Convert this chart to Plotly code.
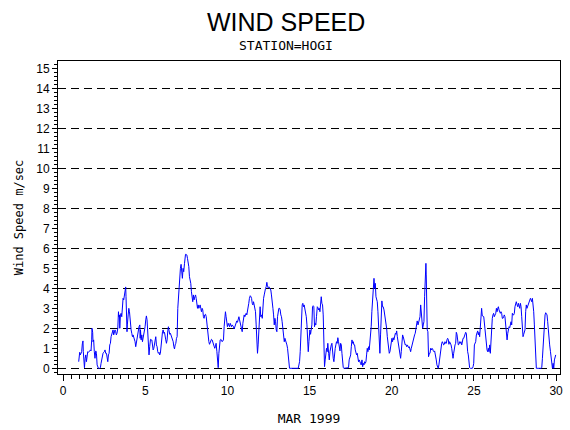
import plotly.graph_objects as go

# wind speed, day of month (decimal) vs m/sec
day = [
    0.95, 0.96, 1.01, 1.05, 1.09, 1.13, 1.17, 1.21, 1.23, 1.27, 1.30, 1.34, 1.38, 1.42, 1.46, 1.50, 1.54, 1.58, 1.62, 1.66,
    1.70, 1.74, 1.76, 1.80, 1.82, 1.86, 1.90, 1.94, 1.99, 2.03, 2.07, 2.11, 2.15, 2.23, 2.27, 2.31, 2.35, 2.39, 2.43, 2.47,
    2.51, 2.55, 2.59, 2.64, 2.68, 2.72, 2.76, 2.80, 2.84, 2.88, 2.92, 2.96, 3.00, 3.04, 3.08, 3.12, 3.16, 3.20, 3.24, 3.28,
    3.33, 3.37, 3.39, 3.43, 3.45, 3.49, 3.53, 3.57, 3.61, 3.65, 3.69, 3.73, 3.77, 3.81, 3.83, 3.87, 3.89, 3.91, 3.96, 4.00,
    4.04, 4.06, 4.10, 4.14, 4.18, 4.22, 4.26, 4.30, 4.34, 4.38, 4.42, 4.46, 4.50, 4.54, 4.58, 4.62, 4.67, 4.69, 4.71, 4.75,
    4.79, 4.83, 4.87, 4.91, 4.95, 4.99, 5.03, 5.07, 5.11, 5.15, 5.19, 5.23, 5.27, 5.32, 5.36, 5.40, 5.44, 5.48, 5.52, 5.56,
    5.60, 5.64, 5.68, 5.72, 5.76, 5.80, 5.84, 5.88, 5.92, 5.96, 6.00, 6.05, 6.09, 6.13, 6.17, 6.21, 6.25, 6.29, 6.33, 6.37,
    6.41, 6.45, 6.49, 6.53, 6.57, 6.61, 6.65, 6.70, 6.74, 6.78, 6.82, 6.86, 6.90, 6.94, 6.98, 7.02, 7.06, 7.10, 7.14, 7.18,
    7.22, 7.26, 7.30, 7.34, 7.39,
    7.41, 7.45, 7.49, 7.53, 7.57, 7.61, 7.65, 7.69, 7.73, 7.77, 7.81, 7.85, 7.89, 7.93, 7.97, 8.02, 8.06, 8.10, 8.14, 8.18,
    8.22, 8.26, 8.30, 8.34, 8.38, 8.42, 8.46, 8.50, 8.54, 8.58, 8.62, 8.67, 8.71, 8.75, 8.79, 8.83, 8.87, 8.91, 8.95, 8.99,
    9.03, 9.07, 9.11, 9.15, 9.19, 9.23, 9.27, 9.31, 9.36, 9.40, 9.44, 9.48, 9.52, 9.56, 9.60, 9.64, 9.68, 9.72, 9.76, 9.80,
    9.84, 9.88, 9.92, 9.96, 10.00, 10.05, 10.09, 10.13, 10.17, 10.21, 10.25, 10.29, 10.33, 10.37, 10.41, 10.45, 10.49, 10.53, 10.57, 10.61,
    10.65, 10.70, 10.74, 10.78, 10.82, 10.86, 10.90, 10.94, 10.98, 11.02, 11.06, 11.10, 11.14, 11.18, 11.22, 11.26, 11.30, 11.34, 11.39, 11.43,
    11.47, 11.51, 11.55, 11.59, 11.63, 11.67, 11.71, 11.75, 11.79, 11.83, 11.87, 11.91, 11.95, 11.99, 12.03, 12.08, 12.12, 12.16, 12.20, 12.24,
    12.28, 12.32, 12.36, 12.40, 12.44, 12.48, 12.52, 12.56, 12.60, 12.64, 12.68, 12.73, 12.77, 12.81, 12.85, 12.89, 12.93, 12.97, 13.01, 13.05,
    13.09, 13.13, 13.17, 13.21, 13.25, 13.29, 13.33, 13.37, 13.42, 13.46, 13.50, 13.54, 13.58, 13.62, 13.66, 13.70, 13.74, 13.78, 14.31, 14.35,
    14.39, 14.43, 14.47, 14.51, 14.55, 14.59, 14.63, 14.67, 14.71, 14.76, 14.80, 14.84, 14.88, 14.92, 14.96, 15.00,
    15.02, 15.06, 15.10, 15.14, 15.18, 15.22, 15.26, 15.30, 15.34, 15.38, 15.42, 15.47, 15.51, 15.55, 15.59, 15.63, 15.67, 15.71, 15.75, 15.79,
    15.83, 15.85, 15.87, 15.91, 15.95, 15.99, 16.03, 16.07, 16.11, 16.16, 16.20, 16.24, 16.28, 16.32, 16.36, 16.40, 16.44, 16.48, 16.52, 16.56,
    16.60, 16.64, 16.68, 16.72, 16.76, 16.80, 16.85, 16.89, 16.93, 16.97, 17.01, 17.05, 17.09, 17.25, 17.37, 17.41, 17.45, 17.50, 17.54, 17.58,
    17.62, 17.66, 17.70, 17.74, 17.78, 17.82, 17.86, 17.90, 17.94, 17.98, 18.02, 18.06, 18.10, 18.14, 18.19, 18.23, 18.27, 18.31, 18.35, 18.39,
    18.43, 18.47, 18.51, 18.55, 18.59, 18.63, 18.67, 18.71, 18.75, 18.79, 18.83, 18.88, 18.92, 18.96, 19.00, 19.04, 19.08, 19.12, 19.16, 19.20,
    19.24, 19.28, 19.32, 19.36, 19.40, 19.44, 19.48, 19.53, 19.57, 19.61, 19.65, 19.69, 19.73, 19.77, 19.81, 19.85, 19.89, 19.93, 19.97, 20.01,
    20.05, 20.09, 20.13, 20.17, 20.22, 20.26, 20.30, 20.34, 20.38, 20.42, 20.46, 20.50, 20.54, 20.58, 20.62, 20.66, 20.70, 20.74, 20.78, 20.82,
    20.86, 20.91, 20.95, 20.99, 21.03, 21.07, 21.11, 21.15, 21.19, 21.23, 21.27, 21.31, 21.35, 21.39, 21.43, 21.47, 21.51, 21.55, 21.60, 21.64,
    21.68, 21.72, 21.76, 21.80, 21.84, 21.88, 21.92, 21.96, 22.00, 22.04, 22.08, 22.10, 22.12, 22.16, 22.20, 22.24, 22.29, 22.33, 22.37, 22.41,
    22.45, 22.49, 22.53, 22.57, 22.61,
    22.63, 22.67, 22.71, 22.75, 22.79, 22.83, 22.87, 22.92, 22.96, 23.00, 23.04, 23.08, 23.12, 23.16, 23.20, 23.24, 23.28, 23.32, 23.36, 23.40,
    23.44, 23.48, 23.52, 23.57, 23.61, 23.65, 23.69, 23.73, 23.77, 23.81, 23.85, 23.89, 23.93, 23.97, 24.01, 24.05, 24.09, 24.13, 24.17, 24.21,
    24.26, 24.30, 24.34, 24.38, 24.42, 24.46, 24.50, 24.54, 24.58, 24.62, 24.66, 24.70, 24.74, 24.78, 24.91, 24.95, 24.99, 25.03, 25.07, 25.11,
    25.15, 25.19, 25.23, 25.27, 25.31, 25.35, 25.39, 25.43, 25.47, 25.51, 25.55, 25.60, 25.64, 25.68, 25.72, 25.76, 25.80, 25.84, 25.88, 25.92,
    25.96, 26.00, 26.04, 26.08, 26.12, 26.16, 26.20, 26.24, 26.29, 26.33, 26.37, 26.41, 26.45, 26.49, 26.53, 26.57, 26.61, 26.65, 26.69, 26.73,
    26.77, 26.81, 26.85, 26.89, 26.94, 26.98, 27.02, 27.06, 27.10, 27.14, 27.18, 27.22, 27.26, 27.30, 27.34, 27.38, 27.42, 27.46, 27.50, 27.54,
    27.58, 27.63, 27.67, 27.71, 27.75, 27.79, 27.83, 27.87, 27.91, 27.95, 27.99, 28.03, 28.07, 28.11, 28.15, 28.19, 28.23, 28.27, 28.32, 28.36,
    28.40, 28.44, 28.48, 28.52, 28.56, 28.60, 28.64, 28.68, 28.72, 28.76, 28.80, 29.09, 29.13, 29.17, 29.21, 29.25, 29.29, 29.33, 29.37, 29.41,
    29.45, 29.49, 29.53, 29.57, 29.61, 29.66, 29.70, 29.74, 29.78, 29.82, 29.86, 29.90, 29.94, 29.98,
]
speed = [
    0.33, 0.58, 0.80, 0.67, 0.75, 0.83, 1.22, 1.37, 0.83, 0.25, 0.03, 0.50, 0.67, 0.33, 0.75, 0.83, 0.80, 0.87, 0.87, 0.92,
    0.87, 1.42, 2.00, 1.80, 1.33, 1.42, 0.83, 0.50, 0.87, 0.75, 0.17, 0.00, 0.00, 0.00, 0.03, 0.25, 0.42, 0.67, 0.75, 0.80,
    0.83, 0.92, 0.75, 0.75, 0.50, 0.33, 0.67, 0.75, 1.17, 1.25, 1.58, 1.75, 1.83, 1.92, 1.67, 1.83, 1.92, 1.83, 1.67, 1.75,
    2.00, 2.83, 2.58, 2.67, 2.00, 2.67, 2.75, 2.58, 3.17, 3.50, 3.42, 3.75, 4.07, 4.07, 3.58, 2.83, 1.83, 2.17, 2.67, 3.00,
    2.83, 2.50, 2.25, 1.92, 1.75, 1.58, 1.67, 1.58, 1.50, 1.33, 1.08, 1.33, 1.50, 1.58, 1.83, 2.08, 2.17, 1.50, 1.92, 1.42,
    1.67, 1.33, 1.50, 1.58, 1.75, 2.08, 2.42, 2.62, 2.42, 1.67, 0.75, 0.67, 1.08, 1.45, 1.42, 1.42, 1.25, 0.92, 1.00, 1.17,
    1.42, 1.58, 1.17, 1.08, 0.83, 0.75, 0.80, 0.67, 0.75, 1.17, 1.58, 1.83, 1.92, 1.75, 1.80, 1.67, 1.42, 1.25, 1.42, 1.87,
    2.08, 1.87, 1.70, 1.75, 1.67, 1.58, 1.50, 1.33, 1.08, 0.97, 1.17, 1.25, 1.50, 1.58, 3.00, 3.67, 4.03, 4.33, 5.00, 5.20,
    4.67, 4.50, 5.00, 4.83, 5.25,
    5.58, 5.70, 5.70, 5.67, 5.50, 5.33, 5.08, 4.58, 4.42, 4.25, 3.83, 3.67, 3.33, 3.67, 3.42, 3.58, 3.67, 3.50, 3.17, 3.00,
    3.17, 3.00, 3.08, 3.17, 3.00, 2.83, 3.00, 2.92, 2.58, 2.50, 2.67, 2.70, 2.58, 2.17, 1.75, 1.58, 1.33, 1.20, 1.33, 1.42,
    1.45, 1.42, 1.33, 1.25, 1.17, 1.00, 1.08, 1.25, 0.83, 0.33, 0.03, 0.75, 1.17, 1.42, 1.45, 1.42, 1.33, 1.37, 1.42, 2.08,
    2.50, 2.83, 2.58, 2.33, 2.08, 2.25, 2.17, 2.08, 2.25, 2.17, 2.08, 2.17, 2.13, 2.08, 1.97, 2.08, 2.17, 2.25, 2.37, 2.30,
    2.50, 2.58, 2.42, 2.30, 2.17, 2.08, 1.83, 2.25, 2.42, 2.67, 2.58, 2.67, 2.75, 2.67, 2.83, 3.00, 3.25, 3.50, 3.63, 3.58,
    3.50, 3.25, 3.17, 3.33, 3.08, 3.00, 2.83, 2.17, 1.33, 0.75, 1.17, 2.00, 2.33, 3.08, 2.58, 2.67, 2.50, 3.17, 3.50, 3.67,
    3.92, 4.00, 4.08, 4.30, 4.08, 4.03, 4.08, 4.00, 4.00, 3.92, 3.67, 3.42, 3.00, 2.67, 2.17, 2.50, 2.33, 1.92, 1.83, 2.58,
    2.92, 3.00, 3.00, 2.92, 2.67, 2.58, 2.33, 2.00, 1.75, 1.33, 1.50, 1.42, 1.25, 1.17, 1.00, 0.75, 0.42, 0.00, 0.00, 0.17,
    0.33, 0.83, 1.50, 2.83, 3.17, 3.25, 3.08, 3.17, 3.00, 2.83, 2.58, 2.17, 1.33, 0.83, 1.33, 1.67,
    1.92, 1.70, 1.87, 2.17, 3.08, 3.13, 3.08, 2.08, 2.25, 2.17, 2.58, 3.08, 3.03, 2.92, 3.00, 2.83, 3.42, 3.58, 3.25, 3.17,
    2.67, 2.00, 0.25, 0.08, 0.42, 1.00, 1.00, 0.83, 1.25, 0.75, 0.42, 0.83, 1.08, 1.17, 1.25, 0.67, 0.50, 0.33, 0.83, 1.00,
    1.17, 1.33, 1.25, 1.53, 1.33, 1.17, 0.87, 1.25, 1.17, 0.75, 0.25, 0.03, 0.00, 0.00, 0.03, 0.42, 0.50, 0.67, 1.08, 1.42,
    1.25, 1.33, 1.17, 1.17, 0.92, 0.75, 0.67, 0.75, 0.58, 0.33, 0.42, 0.25, 0.25, 0.17, 0.42, 0.08, 0.25, 0.17, 0.33, 0.25,
    0.33, 0.67, 1.00, 0.83, 1.08, 0.92, 1.25, 1.92, 2.08, 2.83, 3.33, 4.00, 4.50, 4.00, 4.25, 3.58, 3.50, 3.33, 2.83, 2.08,
    1.33, 0.75, 1.67, 3.25, 3.37, 3.08, 3.08, 2.92, 2.67, 2.50, 2.42, 2.00, 1.58, 1.33, 0.92, 0.75, 0.83, 1.17, 1.25, 1.50,
    1.33, 1.53, 1.42, 1.67, 1.75, 1.70, 1.87, 1.58, 1.33, 1.08, 0.83, 0.75, 0.50, 0.83, 1.17, 1.67, 1.58, 1.42, 1.20, 1.17,
    1.20, 1.08, 1.17, 1.12, 1.03, 1.08, 0.92, 0.83, 1.00, 1.17, 1.25, 1.42, 1.58, 1.67, 1.75, 2.03, 2.17, 2.37, 2.17, 2.33,
    2.33, 2.58, 3.17, 2.75, 2.17, 2.00, 2.17, 2.33, 3.58, 4.50, 5.25, 4.67, 3.42, 1.92, 1.83, 0.58, 0.75, 0.75, 1.00, 0.92,
    1.00, 0.97, 0.87, 0.83, 0.87,
    0.80, 0.58, 0.42, 0.17, 0.03, 0.00, 0.17, 0.50, 0.92, 1.17, 1.25, 1.33, 1.25, 1.17, 1.20, 1.33, 1.25, 1.25, 1.42, 1.50,
    1.45, 1.20, 1.33, 1.25, 1.17, 1.00, 0.75, 0.50, 0.75, 1.17, 1.17, 1.25, 1.80, 1.70, 1.42, 1.17, 1.20, 1.33, 1.25, 1.33,
    1.17, 1.42, 1.50, 1.50, 1.58, 1.75, 1.80, 1.75, 1.17, 0.83, 0.67, 0.13, 0.03, 0.00, 0.00, 0.08, 0.25, 1.17, 1.25, 1.33,
    1.67, 1.75, 1.87, 1.67, 1.80, 1.58, 2.08, 2.62, 3.00, 2.62, 2.62, 2.58, 2.17, 2.00, 1.67, 1.25, 0.92, 0.83, 1.00, 0.83,
    1.17, 0.75, 1.58, 2.33, 2.50, 2.67, 2.75, 2.58, 2.67, 2.75, 3.00, 2.83, 3.00, 3.08, 2.92, 2.83, 2.75, 2.83, 2.75, 2.50,
    2.50, 2.58, 2.67, 2.58, 2.00, 1.58, 1.42, 1.75, 2.00, 2.08, 2.03, 2.25, 2.33, 2.17, 2.75, 2.67, 2.67, 2.75, 3.08, 3.17,
    3.33, 3.17, 3.08, 3.25, 3.17, 3.00, 3.25, 3.08, 2.58, 2.00, 1.58, 1.70, 1.83, 1.92, 2.83, 3.17, 3.00, 3.08, 3.17, 3.25,
    3.33, 3.50, 3.42, 3.33, 3.50, 3.25, 2.83, 2.17, 1.17, 0.25, 0.00, 0.00, 0.03, 0.50, 1.17, 1.75, 2.33, 2.67, 2.78, 2.75,
    2.67, 2.33, 1.83, 1.50, 1.17, 0.83, 0.50, 0.25, 0.00, 0.25, 0.00, 0.42, 0.50, 0.67,
]

ref_levels = [0, 2, 4, 6, 8, 10, 12, 14]

fig = go.Figure()
fig.add_trace(go.Scatter(x=day, y=speed, mode="lines",
                         line=dict(color="#0000ff", width=1), showlegend=False))
# tie the reference lines to the second axis
fig.add_trace(go.Scatter(x=[None], y=[None], yaxis="y2", showlegend=False, hoverinfo="skip"))

fig.update_layout(
    width=570, height=430,
    paper_bgcolor="white", plot_bgcolor="white",
    margin=dict(l=58, r=10, t=61, b=56, autoexpand=False),
    font=dict(family="Liberation Sans", color="black", size=12),
    xaxis=dict(range=[-0.31, 30.24], tick0=0, dtick=5, ticks="outside", ticklen=6,
               tickcolor="black", showgrid=False, zeroline=False, automargin=False,
               showline=True, mirror=True, linecolor="black", linewidth=1,
               minor=dict(dtick=0.5, ticks="outside", ticklen=4, tickcolor="black"),
               title=dict(text="MAR 1999", font=dict(family="DejaVu Sans Mono", size=13), standoff=16)),
    yaxis=dict(range=[-0.285, 15.37], tick0=0, dtick=1, ticks="outside", ticklen=5,
               tickcolor="black", showgrid=False, zeroline=False, automargin=False,
               showline=True, mirror=True, linecolor="black", linewidth=1,
               minor=dict(dtick=0.2, ticks="outside", ticklen=3, tickcolor="black"),
               title=dict(text="Wind Speed m/sec", font=dict(family="DejaVu Sans Mono", size=12), standoff=10)),
    yaxis2=dict(range=[-0.285, 15.37], overlaying="y", side="left", automargin=False,
                tickvals=ref_levels, showticklabels=False, ticks="",
                showgrid=True, gridcolor="black", gridwidth=1, griddash="8px,5px",
                zeroline=False, showline=False),
)

fig.add_annotation(text="WIND SPEED", xref="paper", yref="paper", x=0.455, y=1.125,
                   xanchor="center", yanchor="middle", showarrow=False,
                   font=dict(family="Liberation Sans", size=25))
fig.add_annotation(text="STATION=HOGI", xref="paper", yref="paper", x=0.455, y=1.051,
                   xanchor="center", yanchor="middle", showarrow=False,
                   font=dict(family="DejaVu Sans Mono", size=13))

# page margin would push the figure 8px off the window
fig.write_html("out.html", config={"displayModeBar": False},
               post_script="document.body.style.margin='0';")
